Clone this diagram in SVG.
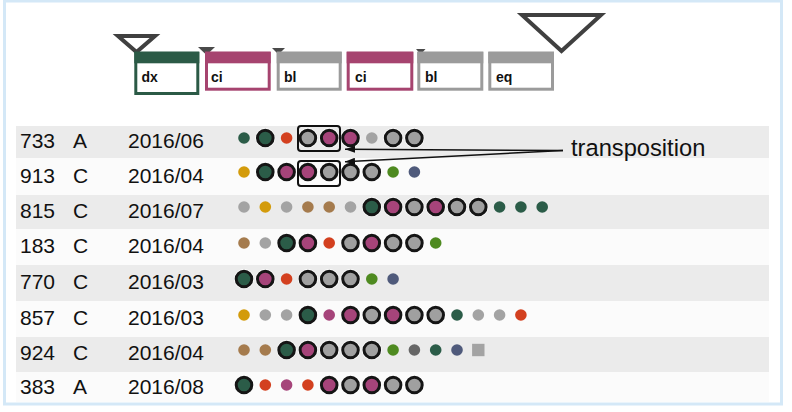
<svg xmlns="http://www.w3.org/2000/svg" xmlns:xlink="http://www.w3.org/1999/xlink" width="792" height="412" viewBox="0 0 792 412">
<style>
.t{font-family:"Liberation Sans",Arial,sans-serif;font-size:21px;fill:#111}
.bt{font-family:"Liberation Sans",Arial,sans-serif;font-size:14px;font-weight:bold;fill:#111}
.lbl{font-family:"Liberation Sans",Arial,sans-serif;font-size:23.7px;fill:#111}
.g{fill:#ebebeb}
.w{fill:#fbfbfb}
.ring{stroke:#151515;stroke-width:3}
.tb{fill:#fff;stroke-width:3}
.bigtri{fill:#fff;stroke:#404040;stroke-width:4;stroke-linejoin:miter}
.smtri{fill:#4a4a4a}
.sel{fill:none;stroke:#111;stroke-width:2}
.arr{fill:none;stroke:#111;stroke-width:1.5}
</style>
<defs>
<marker id="ah" viewBox="0 0 10 7" refX="10" refY="3.5" markerWidth="10" markerHeight="7" markerUnits="userSpaceOnUse" orient="auto">
<path d="M0,0 L10,3.5 L0,7 z" fill="#111"/>
</marker>
<g id="BG"><circle r="10" fill="#fff"/><circle r="7.8" fill="#a0a0a0" class="ring"/></g>
<g id="BP"><circle r="10" fill="#fff"/><circle r="7.8" fill="#a6447a" class="ring"/></g>
<g id="BD"><circle r="10" fill="#fff"/><circle r="7.8" fill="#2b5c48" class="ring"/></g>
<circle id="sg" r="5.8" fill="#a3a3a3"/>
<circle id="sy" r="5.8" fill="#d39b0b"/>
<circle id="sb" r="5.8" fill="#a57b4d"/>
<circle id="sr" r="5.8" fill="#d3401f"/>
<circle id="sp" r="5.8" fill="#a6447a"/>
<circle id="sd" r="5.8" fill="#2b5c48"/>
<circle id="so" r="5.8" fill="#4e8a20"/>
<circle id="ss" r="5.8" fill="#4f5a7b"/>
<circle id="sk" r="5.8" fill="#666666"/>
<rect id="sq" x="-6.2" y="-6.2" width="12.4" height="12.4" fill="#a3a3a3"/>
</defs>
<rect width="792" height="412" fill="#fff"/>
<rect x="4.5" y="1" width="777" height="403" fill="none" stroke="#d4e8f7" stroke-width="3"/>

<g id="stripes">
<rect class="g" x="16" y="126" width="753" height="32"/>
<rect class="w" x="16" y="158" width="753" height="37"/>
<rect class="g" x="16" y="195" width="753" height="34"/>
<rect class="w" x="16" y="229" width="753" height="36"/>
<rect class="g" x="16" y="265" width="753" height="36"/>
<rect class="w" x="16" y="301" width="753" height="36"/>
<rect class="g" x="16" y="337" width="753" height="35"/>
<rect class="w" x="16" y="372" width="753" height="30"/>
</g>

<g id="legend-triangles">
<polygon class="bigtri" points="118,36 155,36 136.5,52"/>
<polygon class="bigtri" points="522,15 601,15 561.5,51"/>
<polygon class="smtri" points="198,47 215,47 206.5,55"/>
<polygon class="smtri" points="272,48 285,48 278.5,54.5"/>
<polygon class="smtri" points="416,49 425.5,49 420.7,54.5"/>
</g>

<g id="box-dx">
<rect class="tb" x="135.8" y="53.2" width="62" height="40.3" stroke="#2b5a46"/>
<rect x="134.3" y="51.7" width="65" height="11.6" fill="#2b5a46"/>
<text class="bt" x="141.5" y="82">dx</text>
</g>
<g id="box-ci1">
<rect class="tb" x="206.5" y="53.2" width="62.7" height="36" stroke="#a6446f"/>
<rect x="205" y="51.7" width="65.7" height="11.6" fill="#a6446f"/>
<text class="bt" x="211" y="82">ci</text>
</g>
<g id="box-bl1">
<rect class="tb" x="278.2" y="53.2" width="62" height="36" stroke="#9b9b9b"/>
<rect x="276.7" y="51.7" width="65" height="11.6" fill="#9b9b9b"/>
<text class="bt" x="284" y="82">bl</text>
</g>
<g id="box-ci2">
<rect class="tb" x="348.2" y="53.2" width="63.6" height="36" stroke="#a6446f"/>
<rect x="346.7" y="51.7" width="66.6" height="11.6" fill="#a6446f"/>
<text class="bt" x="355" y="82">ci</text>
</g>
<g id="box-bl2">
<rect class="tb" x="418.8" y="53.2" width="63" height="36" stroke="#9b9b9b"/>
<rect x="417.3" y="51.7" width="66" height="11.6" fill="#9b9b9b"/>
<text class="bt" x="425" y="82">bl</text>
</g>
<g id="box-eq">
<rect class="tb" x="489.8" y="53.2" width="62.7" height="36" stroke="#9b9b9b"/>
<rect x="488.3" y="51.7" width="65.7" height="11.6" fill="#9b9b9b"/>
<text class="bt" x="496" y="82">eq</text>
</g>

<g id="row-733">
<text class="t" x="20" y="148">733</text><text class="t" x="73" y="148">A</text><text class="t" x="128" y="148">2016/06</text>
<use href="#sd" x="244" y="138"/><use href="#BD" x="265.3" y="138"/><use href="#sr" x="286.6" y="138"/><use href="#BG" x="307.9" y="138"/><use href="#BP" x="329.2" y="138"/><use href="#BP" x="350.5" y="138"/><use href="#sg" x="371.8" y="138"/><use href="#BG" x="393.1" y="138"/><use href="#BG" x="414.4" y="138"/>
</g>
<g id="row-913">
<text class="t" x="20" y="183">913</text><text class="t" x="73" y="183">C</text><text class="t" x="128" y="183">2016/04</text>
<use href="#sy" x="244" y="172"/><use href="#BD" x="265.3" y="172"/><use href="#BP" x="286.6" y="172"/><use href="#BP" x="307.9" y="172"/><use href="#BG" x="329.2" y="172"/><use href="#BG" x="350.5" y="172"/><use href="#BG" x="371.8" y="172"/><use href="#so" x="393.1" y="172"/><use href="#ss" x="414.4" y="172"/>
</g>
<g id="row-815">
<text class="t" x="20" y="218">815</text><text class="t" x="73" y="218">C</text><text class="t" x="128" y="218">2016/07</text>
<use href="#sg" x="244" y="207"/><use href="#sy" x="265.3" y="207"/><use href="#sg" x="286.6" y="207"/><use href="#sb" x="307.9" y="207"/><use href="#sb" x="329.2" y="207"/><use href="#sg" x="350.5" y="207"/><use href="#BD" x="371.8" y="207"/><use href="#BP" x="393.1" y="207"/><use href="#BG" x="414.4" y="207"/><use href="#BP" x="435.7" y="207"/><use href="#BG" x="457" y="207"/><use href="#BG" x="478.3" y="207"/><use href="#sd" x="499.6" y="207"/><use href="#sd" x="520.9" y="207"/><use href="#sd" x="542.2" y="207"/>
</g>
<g id="row-183">
<text class="t" x="20" y="253">183</text><text class="t" x="73" y="253">C</text><text class="t" x="128" y="253">2016/04</text>
<use href="#sb" x="244" y="243"/><use href="#sg" x="265.3" y="243"/><use href="#BD" x="286.6" y="243"/><use href="#BP" x="307.9" y="243"/><use href="#sr" x="329.2" y="243"/><use href="#BG" x="350.5" y="243"/><use href="#BP" x="371.8" y="243"/><use href="#BG" x="393.1" y="243"/><use href="#BG" x="414.4" y="243"/><use href="#so" x="435.7" y="243"/>
</g>
<g id="row-770">
<text class="t" x="20" y="289">770</text><text class="t" x="73" y="289">C</text><text class="t" x="128" y="289">2016/03</text>
<use href="#BD" x="244" y="279"/><use href="#BP" x="265.3" y="279"/><use href="#sr" x="286.6" y="279"/><use href="#BG" x="307.9" y="279"/><use href="#BG" x="329.2" y="279"/><use href="#BG" x="350.5" y="279"/><use href="#so" x="371.8" y="279"/><use href="#ss" x="393.1" y="279"/>
</g>
<g id="row-857">
<text class="t" x="20" y="325">857</text><text class="t" x="73" y="325">C</text><text class="t" x="128" y="325">2016/03</text>
<use href="#sy" x="244" y="315"/><use href="#sg" x="265.3" y="315"/><use href="#sg" x="286.6" y="315"/><use href="#BD" x="307.9" y="315"/><use href="#sp" x="329.2" y="315"/><use href="#BP" x="350.5" y="315"/><use href="#BG" x="371.8" y="315"/><use href="#BP" x="393.1" y="315"/><use href="#BG" x="414.4" y="315"/><use href="#BG" x="435.7" y="315"/><use href="#sd" x="457" y="315"/><use href="#sg" x="478.3" y="315"/><use href="#sg" x="499.6" y="315"/><use href="#sr" x="520.9" y="315"/>
</g>
<g id="row-924">
<text class="t" x="20" y="360">924</text><text class="t" x="73" y="360">C</text><text class="t" x="128" y="360">2016/04</text>
<use href="#sb" x="244" y="350"/><use href="#sb" x="265.3" y="350"/><use href="#BD" x="286.6" y="350"/><use href="#BP" x="307.9" y="350"/><use href="#BG" x="329.2" y="350"/><use href="#BG" x="350.5" y="350"/><use href="#BG" x="371.8" y="350"/><use href="#so" x="393.1" y="350"/><use href="#sk" x="414.4" y="350"/><use href="#sd" x="435.7" y="350"/><use href="#ss" x="457" y="350"/><use href="#sq" x="478.3" y="350"/>
</g>
<g id="row-383">
<text class="t" x="20" y="394">383</text><text class="t" x="73" y="394">A</text><text class="t" x="128" y="394">2016/08</text>
<use href="#BD" x="244" y="385"/><use href="#sr" x="265.3" y="385"/><use href="#sp" x="286.6" y="385"/><use href="#sr" x="307.9" y="385"/><use href="#BP" x="329.2" y="385"/><use href="#BG" x="350.5" y="385"/><use href="#BP" x="371.8" y="385"/><use href="#BG" x="393.1" y="385"/><use href="#BG" x="414.4" y="385"/>
</g>

<g id="transposition">
<rect class="sel" x="298" y="126" width="42" height="25" rx="3"/>
<rect class="sel" x="298" y="161" width="42" height="25" rx="3"/>
<text class="lbl" x="571" y="156">transposition</text>
</g>
<g id="connectors">
<line class="arr" x1="563" y1="150.5" x2="345" y2="149.3" marker-end="url(#ah)"/>
<line class="arr" x1="563" y1="150.5" x2="345" y2="161.7" marker-end="url(#ah)"/>
</g>
</svg>
